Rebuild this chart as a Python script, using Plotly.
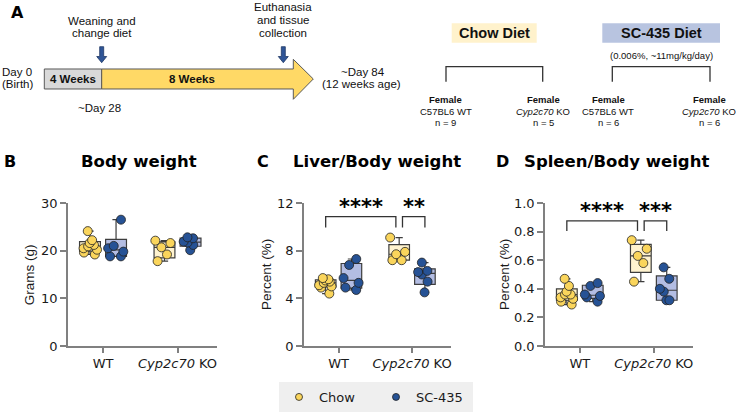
import numpy as np
import plotly.graph_objects as go

W, H = 738, 413

# ---------------- data ----------------
categories = ["WT", "Cyp2c70 KO"]
tick_labels = ["WT", "<i>Cyp2c70</i> KO"]
series_names = ["Chow", "SC-435"]

# Body weight (g)
bw_chow_wt = [24.1, 22.2, 21.6, 21.2, 20.9, 20.5, 20.2, 19.6, 19.2]
bw_chow_ko = [22.1, 21.6, 20.7, 19.2, 17.8]
bw_sc_wt = [26.5, 21.0, 20.5, 19.8, 18.8, 18.8]
bw_sc_ko = [22.8, 22.6, 21.9, 21.7, 21.2, 20.1]

# Liver / body weight (%)
lv_chow_wt = [5.7, 5.6, 5.5, 5.4, 5.3, 5.1, 5.0, 4.9, 4.4]
lv_chow_ko = [9.1, 7.9, 7.7, 7.2, 7.2]
lv_sc_wt = [7.3, 6.8, 5.7, 5.3, 4.9, 4.7]
lv_sc_ko = [7.0, 6.3, 6.2, 6.0, 5.4, 4.5]

# Spleen / body weight (%)
sp_chow_wt = [0.47, 0.42, 0.38, 0.36, 0.36, 0.34, 0.33, 0.31, 0.29]
sp_chow_ko = [0.74, 0.68, 0.63, 0.58, 0.45]
sp_sc_wt = [0.44, 0.42, 0.36, 0.35, 0.34, 0.31]
sp_sc_ko = [0.55, 0.47, 0.40, 0.38, 0.32, 0.32]

bw_ticks = [0, 10, 20, 30]
lv_ticks = [0, 4, 8, 12]
sp_ticks = [0.0, 0.2, 0.4, 0.6, 0.8, 1.0]

# significance: (group a, group b, label, bracket top, leg length)
lv_sig = [(("Chow", 0), ("Chow", 1), "****", 10.85, 0.9),
          (("Chow", 1), ("SC-435", 1), "**", 10.85, 0.9)]
sp_sig = [(("Chow", 0), ("Chow", 1), "****", 0.875, 0.07),
          (("Chow", 1), ("SC-435", 1), "***", 0.875, 0.07)]

# ---------------- style ----------------
FONT = "DejaVu Sans"
AFONT = "Liberation Sans"
TXT = "#1a1a1a"
AXC = "#808080"
C_PT = {"Chow": "#FAD55C", "SC-435": "#265295"}
C_BOX = {"Chow": "#FFF3CF", "SC-435": "#B3BDE3"}
OFF = {"Chow": -0.175, "SC-435": 0.175}
BOXW = 0.28
GAP = 0.045


def px(x):
    return x / W


def py(y):
    return 1 - y / H


fig = go.Figure()

panels = [
    ("B", "Body weight", "Grams (g)", bw_chow_wt, bw_chow_ko, bw_sc_wt, bw_sc_ko, bw_ticks, None, [], (68, 217), 9.5, 139, 29.7),
    ("C", "Liver/Body weight", "Percent (%)", lv_chow_wt, lv_chow_ko, lv_sc_wt, lv_sc_ko, lv_ticks, None, lv_sig, (304, 451), 262.5, 376.7, 266.5),
    ("D", "Spleen/Body weight", "Percent (%)", sp_chow_wt, sp_chow_ko, sp_sc_wt, sp_sc_ko, sp_ticks, ".1f", sp_sig, (545, 693), 502.5, 616.7, 504.5),
]

ydom = [py(346), py(203)]
annotations = []
shapes = []


def ann(text, x, y, size, family=FONT, color="#000", **kw):
    d = dict(text=text, x=px(x), y=py(y), xref="paper", yref="paper", xanchor="center", yanchor="middle",
             showarrow=False, font=dict(family=family, size=size, color=color))
    d.update(kw)
    annotations.append(d)


for i, (letter, title, ytitle, cwt, cko, swt, sko, ticks, tfmt, sig, xd, lx, tx, ytx) in enumerate(panels):
    sfx = "" if i == 0 else str(i + 1)
    xa, ya = "x" + sfx, "y" + sfx
    groups = {"Chow": (cwt, cko), "SC-435": (swt, sko)}
    for name in series_names:
        wt, ko = groups[name]
        st = []
        for v in (wt, ko):
            a = np.array(v)
            q1, med, q3 = np.percentile(a, [25, 50, 75], method="weibull")
            st.append((q1, med, q3, a.min(), a.max()))
        pos = [k + OFF[name] for k in range(len(categories))]
        fig.add_trace(go.Box(
            x=pos, q1=[s[0] for s in st], median=[s[1] for s in st], q3=[s[2] for s in st],
            lowerfence=[s[3] for s in st], upperfence=[s[4] for s in st],
            width=BOXW, whiskerwidth=0.35, boxpoints=False,
            fillcolor=C_BOX[name], line=dict(color="#3d3d3d", width=1.2),
            xaxis=xa, yaxis=ya, showlegend=False, hoverinfo="skip"))
        fig.add_trace(go.Box(
            x=[pos[0]] * len(wt) + [pos[1]] * len(ko), y=list(wt) + list(ko),
            width=BOXW, boxpoints="all", jitter=0.9, pointpos=0,
            fillcolor="rgba(0,0,0,0)", line=dict(color="rgba(0,0,0,0)", width=0),
            marker=dict(size=9, color=C_PT[name], line=dict(color="#222222", width=0.8)),
            xaxis=xa, yaxis=ya, showlegend=False, hoverinfo="skip"))

    lay_x = dict(domain=[px(xd[0]), px(xd[1])], range=[-0.47, 1.53], anchor=ya,
                 tickvals=list(range(len(categories))), ticktext=tick_labels,
                 showline=True, linecolor=AXC, linewidth=1.5, ticks="outside",
                 ticklen=5, tickwidth=1.5, tickcolor=AXC, showgrid=False, zeroline=False,
                 tickfont=dict(family=FONT, size=13, color=TXT), fixedrange=True, automargin=False)
    lay_y = dict(domain=ydom, range=[ticks[0], ticks[-1]], anchor=xa, tickvals=ticks,
                 showline=True, linecolor=AXC, linewidth=1.5, ticks="outside",
                 ticklen=6, tickwidth=1.5, tickcolor=AXC, showgrid=False, zeroline=False,
                 tickfont=dict(family=FONT, size=13, color=TXT), fixedrange=True, automargin=False)
    if tfmt:
        lay_y["tickformat"] = tfmt
    fig.update_layout(**{"xaxis" + sfx: lay_x, "yaxis" + sfx: lay_y})

    ann("<b>%s</b>" % letter, lx, 161.5, 16)
    ann("<b>%s</b>" % title, tx, 161.5, 16.5)
    ann(ytitle, ytx, 274.5, 13.5, family=AFONT, color=TXT, textangle=-90)

    for (ga, gb, lab, top, leg) in sig:
        xa_ = ga[1] + OFF[ga[0]]
        xb_ = gb[1] + OFF[gb[0]]
        if ga[0] == "Chow" and ga[1] == 1:
            xa_ += GAP
        if gb[0] == "Chow" and gb[1] == 1:
            xb_ -= GAP
        shapes.append(dict(type="path", xref=xa, yref=ya,
                           path="M %f,%f L %f,%f L %f,%f L %f,%f" % (xa_, top - leg, xa_, top, xb_, top, xb_, top - leg),
                           line=dict(color="#333333", width=1.3)))
        annotations.append(dict(text="<b>%s</b>" % lab, x=(xa_ + xb_) / 2, y=top, xref=xa, yref=ya,
                                xanchor="center", yanchor="bottom", yshift=-4, showarrow=False,
                                font=dict(family=FONT, size=21, color="#000")))

# legend entries
for name in series_names:
    fig.add_trace(go.Scatter(x=[None], y=[None], mode="markers", name=name,
                             marker=dict(size=7, color=C_PT[name], line=dict(color="#222222", width=0.8))))


# ---------------- panel A (schematic) ----------------
def A_text(t, x, y, size=11.5, bold=False):
    ann(("<b>%s</b>" % t) if bold else t, x, y, size, family=AFONT, color="#111")


def P(pts):
    return "M " + " L ".join("%f,%f" % (px(a), py(b)) for a, b in pts) + " Z"


shapes.append(dict(type="path", xref="paper", yref="paper",
                   path=P([(44.3, 69), (101.7, 69), (101.7, 89), (44.3, 89)]),
                   fillcolor="#D9D9D9", line=dict(color="#595959", width=1)))
shapes.append(dict(type="path", xref="paper", yref="paper",
                   path=P([(101.7, 69), (293.3, 69), (293.3, 59.3), (313.3, 79), (293.3, 99.3), (293.3, 89), (101.7, 89)]),
                   fillcolor="#FFD966", line=dict(color="#595959", width=1)))
for ax_ in (101.7, 283.3):
    shapes.append(dict(type="path", xref="paper", yref="paper",
                       path=P([(ax_ - 2, 46.7), (ax_ + 2, 46.7), (ax_ + 2, 56.5), (ax_ + 5, 56.5), (ax_, 62.7),
                               (ax_ - 5, 56.5), (ax_ - 2, 56.5)]),
                       fillcolor="#2F5597", line=dict(color="#1F3864", width=0.8)))
shapes.append(dict(type="rect", xref="paper", yref="paper", x0=px(451.7), x1=px(536.7), y0=py(42.7), y1=py(23.3),
                   fillcolor="#FFF2CC", line=dict(width=0)))
shapes.append(dict(type="rect", xref="paper", yref="paper", x0=px(602.3), x1=px(720), y0=py(42.7), y1=py(23.3),
                   fillcolor="#B8C4E0", line=dict(width=0)))
for (x0, x1) in ((446, 542.7), (612.3, 710)):
    shapes.append(dict(type="path", xref="paper", yref="paper",
                       path="M %f,%f L %f,%f L %f,%f L %f,%f" % (px(x0), py(81.7), px(x0), py(66.7), px(x1), py(66.7), px(x1), py(81.7)),
                       line=dict(color="#333333", width=1.3)))

ann("<b>A</b>", 17, 13, 16)
A_text("Weaning and", 101.7, 20.7)
A_text("change diet", 101.7, 33.3)
A_text("Euthanasia", 283.3, 6.7)
A_text("and tissue", 283.3, 20)
A_text("collection", 283.3, 33.3)
A_text("Day 0", 17, 71.7)
A_text("(Birth)", 17, 84)
A_text("~Day 84", 363, 72)
A_text("(12 weeks age)", 361, 84)
A_text("~Day 28", 100, 108.3)
A_text("4 Weeks", 73, 79, bold=True)
A_text("8 Weeks", 191.7, 79, bold=True)
A_text("Chow Diet", 494, 33, size=14.5, bold=True)
A_text("SC-435 Diet", 661, 33, size=14.5, bold=True)
A_text("(0.006%, ~11mg/kg/day)", 661, 56, size=9.5)
for xc, geno, n in ((446, "C57BL6 WT", 9), (543.3, "<i>Cyp2c70</i> KO", 5), (608.3, "C57BL6 WT", 6), (709.3, "<i>Cyp2c70</i> KO", 6)):
    A_text("Female", xc, 99.3, size=9.5, bold=True)
    A_text(geno, xc, 111.7, size=9.5)
    A_text("n = %d" % n, xc, 122.7, size=9.5)

fig.update_layout(
    width=W, height=H, margin=dict(l=0, r=0, t=0, b=0, autoexpand=False),
    paper_bgcolor="white", plot_bgcolor="white", boxmode="overlay",
    font=dict(family=FONT, color=TXT),
    shapes=shapes, annotations=annotations,
    showlegend=True,
    legend=dict(orientation="h", x=px(376), xanchor="center", y=py(397), yanchor="middle",
                entrywidth=52, bgcolor="#EFEFEF", font=dict(family=FONT, size=13, color=TXT)),
)

fig.write_html("out.html", config={"displayModeBar": False},
               post_script="document.body.style.margin='0px';document.body.style.overflow='hidden';")
